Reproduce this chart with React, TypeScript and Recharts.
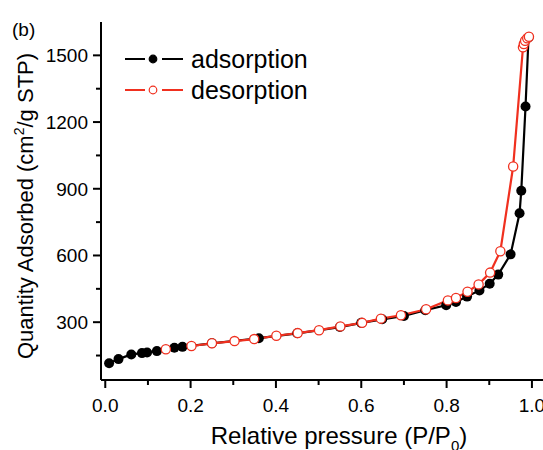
import { LineChart, Line, XAxis, YAxis, Legend, Label } from 'recharts'

// isotherm (P/P0 vs cm2/g STP)
const adsorptionP = [0.009, 0.031, 0.061, 0.086, 0.098, 0.121, 0.162, 0.181, 0.25, 0.36, 0.45, 0.55, 0.6, 0.649, 0.7, 0.75, 0.799, 0.822, 0.848, 0.877, 0.901, 0.921, 0.95, 0.971, 0.975, 0.985, 0.992]
const adsorptionQ = [115, 134, 155, 161, 164, 170, 185, 189, 205, 228, 250, 278, 297, 313, 328, 354, 376, 391, 415, 443, 473, 514, 605, 790, 891, 1270, 1580]
const desorptionP = [0.142, 0.202, 0.25, 0.303, 0.349, 0.401, 0.451, 0.501, 0.551, 0.602, 0.646, 0.693, 0.752, 0.803, 0.822, 0.849, 0.875, 0.902, 0.926, 0.956, 0.979, 0.981, 0.984, 0.989, 0.993]
const desorptionQ = [178, 193, 205, 215, 224, 239, 251, 264, 281, 297, 316, 331, 358, 398, 409, 437, 470, 523, 619, 1000, 1536, 1551, 1566, 1577, 1584]

const xTicks = [0, 0.1, 0.2, 0.3, 0.4, 0.5, 0.6, 0.7, 0.8, 0.9, 1.0]
const yTicks = [150, 300, 450, 600, 750, 900, 1050, 1200, 1350, 1500]

const adsorption = adsorptionP.map((p, i) => ({ p, q: adsorptionQ[i] }))
const desorption = desorptionP.map((p, i) => ({ p, q: desorptionQ[i] }))

const FONT = '"Liberation Sans", Arial, sans-serif'
const RED = '#f0301f'

const isMajorX = (v: number) => Math.round(v * 10) % 2 === 0
const isMajorY = (v: number) => v % 300 === 0

function BottomTick({ x, y, payload }: any) {
  const major = isMajorX(payload.value)
  return (
    <g>
      <line x1={x} x2={x} y1={y} y2={y + (major ? 8 : 5)} stroke="#000" strokeWidth={2} />
      {major && (
        <text x={x} y={y + 32} textAnchor="middle" fontSize={19} fontFamily={FONT} fill="#000">
          {payload.value.toFixed(1)}
        </text>
      )}
    </g>
  )
}

function TopTick({ x, y, payload }: any) {
  const major = isMajorX(payload.value)
  return <line x1={x} x2={x} y1={y} y2={y + (major ? 8 : 5)} stroke="#000" strokeWidth={2} />
}

function LeftTick({ x, y, payload }: any) {
  const major = isMajorY(payload.value)
  return (
    <g>
      <line x1={x - (major ? 8 : 5)} x2={x} y1={y} y2={y} stroke="#000" strokeWidth={2} />
      {major && (
        <text x={x - 13} y={y + 7} textAnchor="end" fontSize={19} fontFamily={FONT} fill="#000">
          {payload.value}
        </text>
      )}
    </g>
  )
}

function RightTick({ x, y, payload }: any) {
  const major = isMajorY(payload.value)
  return <line x1={x} x2={x - (major ? 8 : 5)} y1={y} y2={y} stroke="#000" strokeWidth={2} />
}

function LegendBox({ payload }: any) {
  return (
    <svg width={210} height={70}>
      {(payload || []).map((entry: any, i: number) => {
        const cy = 17 + i * 31
        const open = entry.value === 'desorption'
        return (
          <g key={entry.value}>
            <line x1={5} x2={25} y1={cy} y2={cy} stroke={entry.color} strokeWidth={2} />
            <line x1={42} x2={63} y1={cy} y2={cy} stroke={entry.color} strokeWidth={2} />
            <circle cx={33} cy={cy} r={3.8} fill={open ? '#fff' : entry.color} stroke={entry.color} strokeWidth={1.2} />
            <text x={71} y={cy + 9} fontSize={25} fontFamily={FONT} fill="#000">
              {entry.value}
            </text>
          </g>
        )
      })}
    </svg>
  )
}

export default function App() {
  return (
    <div style={{ position: 'absolute', left: 0, top: 0, width: 543, height: 450, overflow: 'hidden', background: '#fff' }}>
      <LineChart width={560} height={450} margin={{ top: 22, right: 11, left: 41, bottom: 0 }}>
        <XAxis
          type="number"
          dataKey="p"
          domain={[-0.01, 1.04]}
          allowDataOverflow
          ticks={xTicks}
          tick={<BottomTick />}
          tickSize={0}
          tickMargin={0}
          tickLine={false}
          axisLine={{ stroke: '#000', strokeWidth: 2 }}
          height={70}
          interval={0}
        >
          <Label
            content={() => (
              <text x={339} y={444} textAnchor="middle" fontSize={24} fontFamily={FONT} fill="#000">
                Relative pressure (P/P
                <tspan fontSize={15} dy={7}>0</tspan>
                <tspan dy={-7}>)</tspan>
              </text>
            )}
          />
        </XAxis>
        <XAxis
          xAxisId="top"
          orientation="top"
          type="number"
          dataKey="p"
          domain={[-0.01, 1.04]}
          allowDataOverflow
          ticks={xTicks}
          tick={<TopTick />}
          tickSize={0}
          tickMargin={0}
          tickLine={false}
          axisLine={{ stroke: '#000', strokeWidth: 2 }}
          height={0}
          interval={0}
        />
        <YAxis
          type="number"
          domain={[40, 1650]}
          allowDataOverflow
          ticks={yTicks}
          tick={<LeftTick />}
          tickSize={0}
          tickMargin={0}
          tickLine={false}
          axisLine={{ stroke: '#000', strokeWidth: 2 }}
          width={60}
          interval={0}
        >
          <Label
            content={() => (
              <text
                x={33}
                y={206}
                transform="rotate(-90 33 206)"
                textAnchor="middle"
                fontSize={22}
                fontFamily={FONT}
                fill="#000"
              >
                Quantity Adsorbed (cm
                <tspan fontSize={14} dy={-9}>2</tspan>
                <tspan dy={9}>/g STP)</tspan>
              </text>
            )}
          />
        </YAxis>
        <YAxis
          yAxisId="right"
          orientation="right"
          type="number"
          domain={[40, 1650]}
          allowDataOverflow
          ticks={yTicks}
          tick={<RightTick />}
          tickSize={0}
          tickMargin={0}
          tickLine={false}
          axisLine={{ stroke: '#000', strokeWidth: 2 }}
          width={0}
          interval={0}
        />
        <Legend
          layout="vertical"
          align="center"
          verticalAlign="middle"
          wrapperStyle={{ position: 'absolute', left: 120, top: 42, width: 210, height: 70 }}
          content={<LegendBox />}
        />
        <Line
          name="adsorption"
          data={adsorption}
          dataKey="q"
          type="linear"
          stroke="#000"
          strokeWidth={2.2}
          dot={{ r: 5, fill: '#000', stroke: '#000', strokeWidth: 0 }}
          isAnimationActive={false}
        />
        <Line
          name="desorption"
          data={desorption}
          dataKey="q"
          type="linear"
          stroke={RED}
          strokeWidth={2.2}
          dot={{ r: 4.6, fill: '#fff', stroke: RED, strokeWidth: 1.3 }}
          isAnimationActive={false}
        />
      </LineChart>
      <div style={{ position: 'absolute', left: 12, top: 19, fontFamily: FONT, fontSize: 19, color: '#000' }}>(b)</div>
    </div>
  )
}
